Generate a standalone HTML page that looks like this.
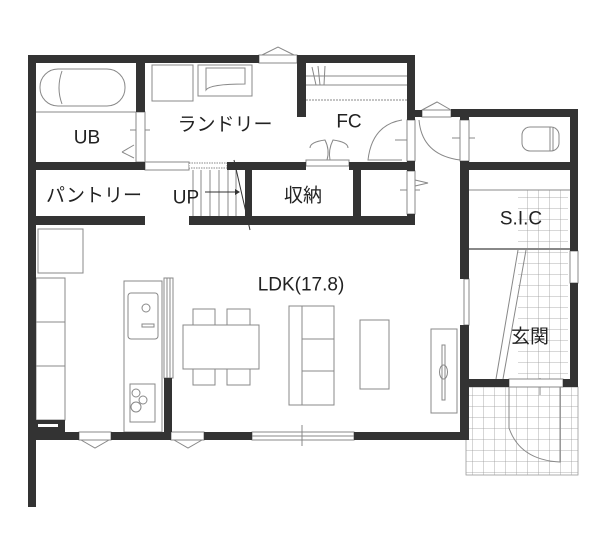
<!DOCTYPE html>
<html><head><meta charset="utf-8"><style>
html,body{margin:0;padding:0;background:#fff;}
svg{display:block;}
text{font-family:"Liberation Sans","Noto Sans CJK JP",sans-serif;font-size:19px;fill:#222;text-anchor:middle;dominant-baseline:central;}
</style></head><body>
<svg width="601" height="551" viewBox="0 0 601 551" xmlns="http://www.w3.org/2000/svg">
<defs>
<pattern id="tile" width="11" height="11" patternUnits="userSpaceOnUse">
<path d="M11 0V11M0 11H11" stroke="#999" stroke-width="0.8" fill="none"/>
</pattern>
</defs>
<rect width="601" height="551" fill="#fff"/>
<!-- tiles -->
<rect x="466" y="387" width="112" height="88" fill="url(#tile)" stroke="#999" stroke-width="0.8"/>
<rect x="518" y="190" width="50" height="189" fill="url(#tile)"/>
<g fill="none" stroke="#888" stroke-width="1">
<!-- fixtures -->
<rect x="40" y="69" width="85" height="37" rx="18"/>
<path d="M62 71 Q56 88 62 104"/>
<line x1="36" y1="112" x2="136" y2="112"/>
<rect x="152" y="65" width="41" height="36"/>
<rect x="198" y="65" width="54" height="31"/>
<path d="M206 68 V90 Q210 84 245 84 V68 Z"/>
<line x1="306" y1="76" x2="407" y2="76"/><line x1="306" y1="85" x2="407" y2="85"/>
<line x1="306" y1="100" x2="407" y2="100" stroke-dasharray="2,1"/>
<path d="M312 67 L316 85 M318 66 L320 85 M325 66 L324 85"/>
<rect x="522" y="127" width="37" height="24" rx="8"/>
<line x1="550" y1="127" x2="550" y2="151"/><line x1="553" y1="127" x2="553" y2="151"/>
<!-- stairs -->
<path d="M193 170V216M201 170V216M210 170V216M219 170V216M228 170V216M236 170V216"/>
<line x1="205" y1="192" x2="238" y2="192" stroke="#333"/>
<path d="M235 189 L240 192 L235 195" fill="#333" stroke="none"/>
<line x1="234" y1="160" x2="250" y2="230" stroke="#333"/>
<!-- left cabinets -->
<rect x="38" y="229" width="45" height="44"/>
<rect x="36" y="278" width="29" height="142"/>
<line x1="36" y1="322" x2="65" y2="322"/><line x1="36" y1="366" x2="65" y2="366"/>
<!-- kitchen -->
<rect x="124" y="281" width="38" height="151"/>
<rect x="128" y="293" width="30" height="46" rx="3"/>
<circle cx="146" cy="308" r="4"/>
<rect x="142" y="324" width="12" height="3"/>
<rect x="130" y="384" width="25" height="38"/>
<circle cx="136" cy="393" r="4"/><circle cx="143" cy="400" r="4"/><circle cx="136" cy="407" r="5"/>
<rect x="164" y="278" width="9" height="100"/>
<line x1="167" y1="278" x2="167" y2="378"/><line x1="170" y1="278" x2="170" y2="378"/>
<!-- dining -->
<rect x="183" y="325" width="76" height="44"/>
<rect x="193" y="309" width="22" height="16"/><rect x="227" y="309" width="23" height="16"/>
<rect x="193" y="369" width="22" height="16"/><rect x="227" y="369" width="23" height="16"/>
<!-- sofa -->
<rect x="289" y="306" width="45" height="99"/>
<line x1="302" y1="306" x2="302" y2="405"/>
<line x1="302" y1="339" x2="334" y2="339"/><line x1="302" y1="371" x2="334" y2="371"/>
<rect x="360" y="320" width="29" height="69"/>
<rect x="431" y="329" width="26" height="84"/>
<rect x="442" y="345" width="3" height="55"/>
<ellipse cx="443.5" cy="372" rx="4" ry="7"/>
<!-- entrance -->
<line x1="469" y1="249" x2="570" y2="249" stroke-width="2"/>
<line x1="469" y1="190" x2="570" y2="190"/>
<path d="M518 250 L496 379 M526 250 L503 379"/>
<path d="M509 387 V428 Q520 460 560 462 V387"/>
<line x1="540" y1="378" x2="540" y2="395"/>
<!-- doors -->
<path d="M402 120 Q372 125 368 160 H402"/>
<path d="M419 120 Q422 155 460 160"/>
<path d="M310 148 Q310 142 325 140 Q330 150 327 160 M348 148 Q348 142 333 140 Q328 150 330 160"/>
<rect x="306" y="160" width="43" height="6"/>
<line x1="130" y1="130" x2="150" y2="130"/>
<line x1="395" y1="140" x2="415" y2="140"/><line x1="452" y1="138" x2="475" y2="138"/>
<line x1="400" y1="190" x2="420" y2="190"/>
<path d="M122 152 L134 145 M122 152 L134 158"/>
<path d="M415 180 L428 183 L415 186"/>
<path d="M422 110 L437 102 L451 110"/>
<path d="M262 55 L278 47 L294 55"/>
<path d="M81 440 L95 448 L109 440"/>
<path d="M174 440 L188 448 L202 440"/>
</g>
<!-- light openings -->
<g fill="#fff" stroke="#888" stroke-width="1">
<rect x="136" y="112" width="9" height="50"/>
<rect x="145" y="162" width="44" height="8"/>
<rect x="189" y="163" width="38" height="5" stroke-dasharray="1.5,1"/>
<rect x="407" y="120" width="8" height="41"/>
<rect x="460" y="120" width="9" height="41"/>
<rect x="407" y="171" width="8" height="43"/>
<rect x="422" y="110" width="29" height="7"/>
<rect x="259" y="55" width="38" height="8"/>
<rect x="570" y="251" width="8" height="32"/>
<rect x="464" y="279" width="5" height="46"/>
<rect x="509" y="379" width="54" height="8"/>
<rect x="79" y="432" width="32" height="8"/>
<rect x="171" y="432" width="33" height="8"/>
<rect x="252" y="432" width="102" height="8"/>
<line x1="252" y1="436" x2="354" y2="436"/>
<line x1="302" y1="425" x2="302" y2="446"/>
</g>
<!-- walls -->
<g fill="#333">
<rect x="28" y="55" width="8" height="452"/>
<rect x="28" y="55" width="231" height="8"/>
<rect x="297" y="55" width="118" height="8"/>
<rect x="407" y="55" width="8" height="65"/>
<rect x="415" y="110" width="7" height="7"/>
<rect x="451" y="109" width="127" height="8"/>
<rect x="570" y="109" width="8" height="142"/>
<rect x="570" y="283" width="8" height="104"/>
<rect x="460" y="109" width="9" height="11"/>
<rect x="460" y="161" width="9" height="118"/>
<rect x="460" y="325" width="9" height="115"/>
<rect x="460" y="162" width="118" height="8"/>
<rect x="469" y="379" width="40" height="8"/>
<rect x="563" y="379" width="15" height="8"/>
<rect x="36" y="432" width="43" height="8"/>
<rect x="111" y="432" width="60" height="8"/>
<rect x="204" y="432" width="48" height="8"/>
<rect x="354" y="432" width="115" height="8"/>
<rect x="36" y="420" width="29" height="12"/>
<rect x="136" y="55" width="9" height="57"/>
<rect x="36" y="162" width="109" height="8"/>
<rect x="227" y="162" width="79" height="8"/>
<rect x="349" y="162" width="66" height="8"/>
<rect x="297" y="55" width="9" height="62"/>
<rect x="407" y="161" width="8" height="10"/>
<rect x="407" y="214" width="8" height="11"/>
<rect x="36" y="216" width="109" height="9"/>
<rect x="189" y="216" width="226" height="9"/>
<rect x="245" y="170" width="7" height="46"/>
<rect x="353" y="170" width="8" height="46"/>
<rect x="164" y="378" width="8" height="54"/>
</g>
<rect x="38" y="424" width="20" height="3" fill="#fff"/>
<text x="87" y="138">UB</text>
<text x="225" y="125">ランドリー</text>
<text x="349" y="122">FC</text>
<text x="94" y="196">パントリー</text>
<text x="186" y="198">UP</text>
<text x="303" y="196">収納</text>
<text x="521" y="219">S.I.C</text>
<text x="301" y="285">LDK(17.8)</text>
<text x="530" y="337">玄関</text>
</svg>
</body></html>
